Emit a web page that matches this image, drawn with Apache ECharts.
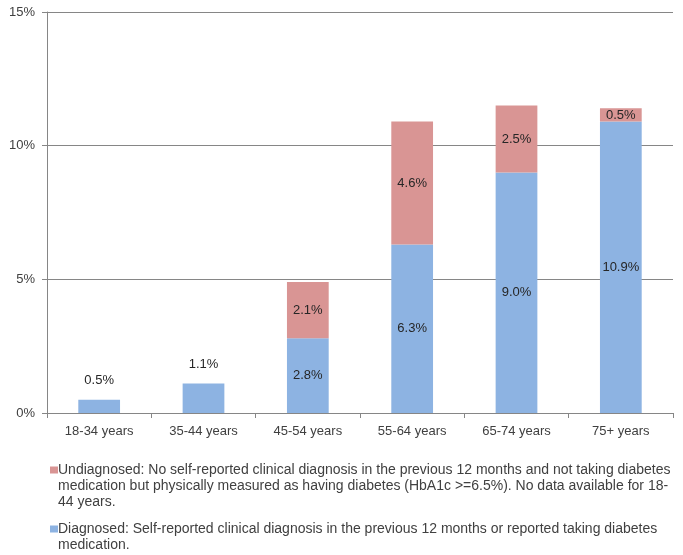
<!DOCTYPE html>
<html><head><meta charset="utf-8">
<script src="https://cdn.jsdelivr.net/npm/echarts@6/dist/echarts.min.js"></script>
<style>html,body{margin:0;padding:0;background:#fff}#c{width:683px;height:555px}</style>
</head><body><div id="c"></div>
<script>
const categories = ['18-34 years','35-44 years','45-54 years','55-64 years','65-74 years','75+ years'];
const diagnosed = [0.5, 1.1, 2.8, 6.3, 9.0, 10.9];
const undiagnosed = [null, null, 2.1, 4.6, 2.5, 0.5];
const yTicks = [0, 5, 10, 15];
const undiagName = 'Undiagnosed: No self-reported clinical diagnosis in the previous 12 months and not taking diabetes medication but physically measured as having diabetes (HbA1c >=6.5%). No data available for 18-44 years.';
const diagName = 'Diagnosed: Self-reported clinical diagnosis in the previous 12 months or reported taking diabetes medication.';
const legendLines = {};
legendLines[undiagName] = ['Undiagnosed: No self-reported clinical diagnosis in the previous 12 months and not taking diabetes', 'medication but physically measured as having diabetes (HbA1c >=6.5%). No data available for 18-', '44 years.'];
legendLines[diagName] = ['Diagnosed: Self-reported clinical diagnosis in the previous 12 months or reported taking diabetes', 'medication.'];
const colDiag = '#8DB3E2', colUndiag = '#D99594';
const markerKey = {};
markerKey[undiagName] = 'mu';
markerKey[diagName] = 'md';

const font = 'Liberation Sans, Arial, sans-serif';
const fmt = p => p.value.toFixed(1) + '%';
const chart = echarts.init(document.getElementById('c'));
chart.setOption({
  animation: false,
  textStyle: {fontFamily: font},
  grid: {left: 47, right: 10, top: 12, bottom: 142},
  legend: {
    orient: 'vertical', left: 45, top: 457, itemGap: 11,
    itemWidth: 0, itemHeight: 7, icon: 'none',
    data: [undiagName, diagName],
    formatter: n => legendLines[n].map((l, i) => (i === 0 ? '{' + markerKey[n] + '|}' : '{s|}') + '{t|' + l + '}').join('\n'),
    textStyle: {
      fontSize: 14, color: '#404040', lineHeight: 16, fontFamily: font, padding: [0,0,0,-5],
      rich: {
        t: {fontSize: 14, color: '#404040', lineHeight: 16, fontFamily: font},
        mu: {width: 7, height: 7, backgroundColor: colUndiag, verticalAlign: 'middle', padding: [0,1,0,0], lineHeight: 16},
        md: {width: 7, height: 7, backgroundColor: colDiag, verticalAlign: 'middle', padding: [0,1,0,0], lineHeight: 16},
        s: {width: 8, height: 7, lineHeight: 16}
      }
    }
  },
  xAxis: {
    type: 'category', data: categories,
    axisLine: {lineStyle: {color: '#868686'}},
    axisTick: {show: true, length: 5, alignWithLabel: false, lineStyle: {color: '#868686'}},
    axisLabel: {color: '#404040', fontSize: 13, margin: 12}
  },
  yAxis: {
    type: 'value', min: yTicks[0], max: yTicks[yTicks.length-1], interval: 5,
    axisLine: {show: true, lineStyle: {color: '#868686'}},
    axisTick: {show: true, length: 5, lineStyle: {color: '#868686'}},
    splitLine: {lineStyle: {color: '#868686'}},
    axisLabel: {color: '#404040', fontSize: 13, margin: 12, formatter: v => v + '%'}
  },
  series: [
    {
      name: diagName, type: 'bar', stack: 's', barCategoryGap: '60%',
      itemStyle: {color: colDiag},
      data: diagnosed.map((v, i) => undiagnosed[i] == null
        ? {value: v, label: {show: true, position: 'top', distance: 13, formatter: fmt, color: '#262626', fontSize: 13}}
        : {value: v}),
      label: {show: true, position: 'inside', formatter: fmt, color: '#262626', fontSize: 13}
    },
    {
      name: undiagName, type: 'bar', stack: 's',
      itemStyle: {color: colUndiag},
      data: undiagnosed,
      label: {show: true, position: 'inside', formatter: fmt, color: '#262626', fontSize: 13}
    }
  ]
});
</script></body></html>
